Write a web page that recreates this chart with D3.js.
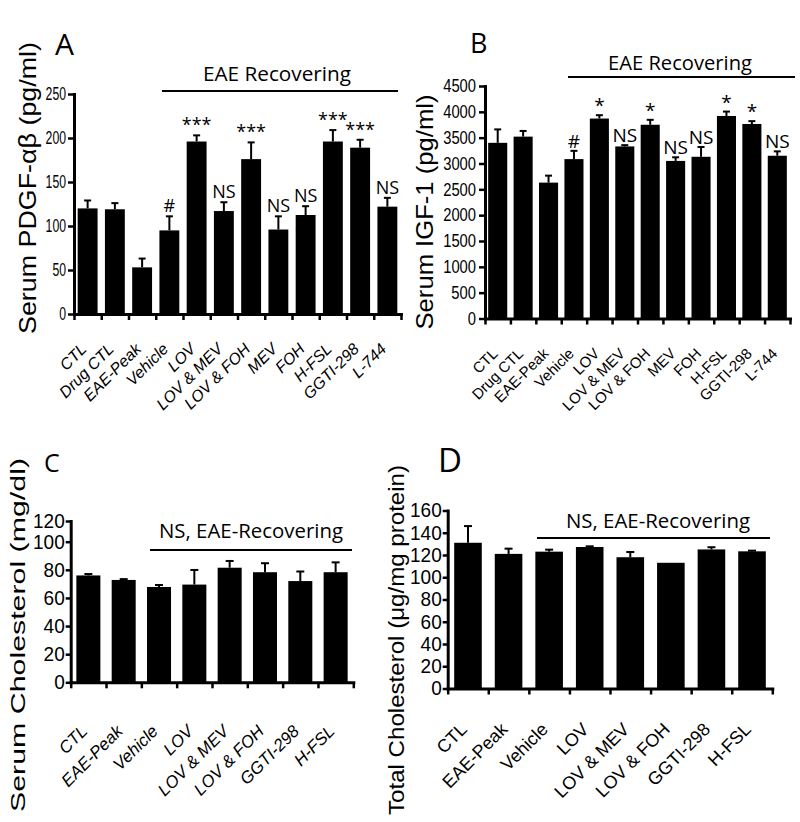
<!DOCTYPE html>
<html><head><meta charset="utf-8">
<script src="https://cdn.jsdelivr.net/npm/d3@7"></script>
<style>body{margin:0;background:#fff} svg{display:block}</style>
</head><body>
<svg id="chart" width="800" height="822"></svg>
<script>
// ---------- data ----------
const catsAB = ["CTL","Drug CTL","EAE-Peak","Vehicle","LOV","LOV & MEV","LOV & FOH","MEV","FOH","H-FSL","GGTI-298","L-744"];
const pdgfMean = [120,119,53,95,196,117,176,96,112.5,196,189,122];
const pdgfErr  = [9,7,10,16,7,10,19,15,10,13,9,10];
const pdgfMarks = ["","","","#","***","NS","***","NS","NS","***","***","NS"];
const pdgfTicks = [0,50,100,150,200,250];

const igfMean = [3400,3520,2630,3085,3870,3330,3750,3050,3130,3920,3765,3150];
const igfErr  = [260,110,135,160,65,25,95,70,190,85,55,85];
const igfMarks = ["","","","#","*","NS","*","NS","NS","*","*","NS"];
const igfTicks = [0,500,1000,1500,2000,2500,3000,3500,4000,4500];

const catsCD = ["CTL","EAE-Peak","Vehicle","LOV","LOV & MEV","LOV & FOH","GGTI-298","H-FSL"];
const serumCholMean = [76,72.8,67.8,69.5,81.5,78.3,72,78.3];
const serumCholErr  = [1,0.6,1.4,10.4,4.8,6.4,6.8,7];
const serumCholTicks = [0,20,40,60,80,100,120];

const totalCholMean = [131,121,123,127.2,118,113,125,123.3];
const totalCholErr  = [15,4.7,1.8,0.6,4.7,0,2,0.6];
const totalCholTicks = [0,20,40,60,80,100,120,140,160];

const headerAB = "EAE Recovering";
const headerCD = "NS, EAE-Recovering";

// ---------- drawing ----------
const svg = d3.select("#chart");
const LABEL_FONT = "'Liberation Sans', Arial, Helvetica, sans-serif";
const ANNO_FONT = "'Open Sans', 'Noto Sans', sans-serif";

function condense(sel, ratio){
  sel.each(function(){
    const L = this.getComputedTextLength();
    d3.select(this).attr("textLength", L*ratio).attr("lengthAdjust","spacingAndGlyphs");
  });
}

function drawPanel(c){
  const g = svg.append("g");
  const n = c.cats.length;
  const x = d3.scaleBand().domain(c.cats).range([c.x0,c.x1]).paddingInner(c.pad).paddingOuter(c.pad/2);
  const y = d3.scaleLinear().domain(c.yDomain).range(c.yRange);
  const xl = d3.scaleLinear().domain([0,n]).range([c.x0,c.x1]);

  // bars
  g.selectAll("rect.bar").data(c.mean).join("rect")
    .attr("x",(d,i)=>x(c.cats[i])).attr("width",x.bandwidth())
    .attr("y",d=>y(d)).attr("height",d=>y(0)-y(d)).attr("fill","#000");
  // error bars
  c.mean.forEach((m,i)=>{
    if(!c.err[i]) return;
    const cx = x(c.cats[i])+x.bandwidth()/2;
    g.append("line").attr("x1",cx).attr("x2",cx).attr("y1",y(m)).attr("y2",y(m+c.err[i]))
      .attr("stroke","#000").attr("stroke-width",2);
    g.append("line").attr("x1",cx-c.cap).attr("x2",cx+c.cap).attr("y1",y(m+c.err[i])).attr("y2",y(m+c.err[i]))
      .attr("stroke","#000").attr("stroke-width",2);
  });
  // annotations
  if(c.marks){
    c.mean.forEach((m,i)=>{
      if(!c.marks[i]) return;
      const cx = x(c.cats[i])+x.bandwidth()/2;
      g.append("text").attr("x",cx).attr("y",y(m+c.err[i])-c.markGap)
        .attr("text-anchor","middle").attr("font-family",ANNO_FONT)
        .attr("font-size",c.markSize).text(c.marks[i]);
    });
  }
  // y axis
  const ya = g.append("g").attr("transform",`translate(${c.x0},0)`)
    .call(d3.axisLeft(y).tickValues(c.ticks).tickSize(c.ytick).tickSizeOuter(0).tickPadding(c.ypadT).tickFormat(d3.format("d")));
  ya.select(".domain").attr("stroke-width",3).attr("stroke-linecap","square");
  ya.selectAll(".tick line").attr("stroke-width",2.5);
  ya.selectAll(".tick text").attr("font-family",LABEL_FONT).attr("font-size",c.yfs).attr("fill","#000");
  condense(ya.selectAll(".tick text"), c.ycond);
  // x axis (ticks at category boundaries)
  const xa = g.append("g").attr("transform",`translate(0,${y(0)})`)
    .call(d3.axisBottom(xl).tickValues(d3.range(n+1)).tickSize(6).tickSizeOuter(0).tickFormat(""));
  xa.select(".domain").attr("stroke-width",3).attr("stroke-linecap","square");
  xa.selectAll(".tick line").attr("stroke-width",2.5);
  // x labels
  c.cats.forEach((name,i)=>{
    const cx = x(name)+x.bandwidth()/2 + c.xlabDx;
    g.append("text").attr("transform",`translate(${cx},${y(0)+c.xlabDy}) rotate(-45)`)
      .attr("text-anchor","end").attr("font-family",LABEL_FONT).attr("font-size",c.xfs)
      .attr("font-style",c.italic?"italic":"normal").text(name);
  });
  // header line + text
  g.append("line").attr("x1",c.hx0).attr("x2",c.hx1).attr("y1",c.hy).attr("y2",c.hy)
    .attr("stroke","#000").attr("stroke-width",2);
  g.append("text").attr("x",c.htx).attr("y",c.hty).attr("text-anchor","middle")
    .attr("font-family",ANNO_FONT).attr("font-size",c.hfs)
    .attr("textLength",c.htl).attr("lengthAdjust","spacingAndGlyphs").text(c.header);
  // panel letter
  g.append("text").attr("x",c.lx).attr("y",c.ly).attr("font-family",ANNO_FONT)
    .attr("font-size",c.lfs).text(c.letter);
  // y title
  g.append("text").attr("transform",`translate(${c.tx},${c.ty}) rotate(-90)`)
    .attr("text-anchor","middle").attr("font-family",LABEL_FONT).attr("font-size",c.tfs)
    .attr("textLength",c.tl).attr("lengthAdjust","spacingAndGlyphs").text(c.title);
}

drawPanel({cats:catsAB, mean:pdgfMean, err:pdgfErr, marks:pdgfMarks, ticks:pdgfTicks,
  x0:74, x1:401, pad:0.27, yDomain:[0,250], yRange:[314,94], cap:3.5,
  markGap:4, markSize:18, ytick:6, ypadT:2, yfs:18, ycond:0.68,
  xlabDx:0, xlabDy:36, xfs:16, italic:true,
  hx0:162, hx1:398, hy:91, htx:277, hty:81, hfs:20, htl:148, header:headerAB,
  letter:"A", lx:55, ly:55, lfs:30,
  title:"Serum PDGF-αβ (pg/ml)", tx:36, ty:188, tfs:24, tl:292});

drawPanel({cats:catsAB, mean:igfMean, err:igfErr, marks:igfMarks, ticks:igfTicks,
  x0:485, x1:790, pad:0.25, yDomain:[0,4500], yRange:[318.5,86], cap:3.5,
  markGap:3, markSize:19, ytick:6, ypadT:3, yfs:18, ycond:0.82,
  xlabDx:1, xlabDy:36, xfs:15, italic:false,
  hx0:568, hx1:795, hy:77, htx:680, hty:70, hfs:20, htl:144, header:headerAB,
  letter:"B", lx:470, ly:53, lfs:27,
  title:"Serum IGF-1 (pg/ml)", tx:433, ty:212, tfs:24, tl:235});

// panel C: the reference's y axis has a compressed 100-120 segment
drawPanel({cats:catsCD, mean:serumCholMean, err:serumCholErr, marks:null, ticks:serumCholTicks,
  x0:70.7, x1:353.3, pad:0.32, yDomain:[0,100,120], yRange:[682.3,541.7,521], cap:4,
  markGap:4, markSize:19, ytick:5, ypadT:1, yfs:20, ycond:0.95,
  xlabDx:0, xlabDy:50, xfs:17, italic:true,
  hx0:150, hx1:352, hy:550, htx:251, hty:538, hfs:20, htl:184, header:headerCD,
  letter:"C", lx:44, ly:472, lfs:25,
  title:"Serum Cholesterol (mg/dl)", tx:25, ty:635, tfs:21, tl:354});

drawPanel({cats:catsCD, mean:totalCholMean, err:totalCholErr, marks:null, ticks:totalCholTicks,
  x0:447.7, x1:772.3, pad:0.32, yDomain:[0,160], yRange:[688.5,510.5], cap:4,
  markGap:4, markSize:19, ytick:5, ypadT:1, yfs:20, ycond:0.95,
  xlabDx:0, xlabDy:42, xfs:18, italic:false,
  hx0:537, hx1:770, hy:538, htx:658, hty:528, hfs:20, htl:184, header:headerCD,
  letter:"D", lx:438, ly:472, lfs:33,
  title:"Total Cholesterol (μg/mg protein)", tx:404, ty:640, tfs:22, tl:350});
</script>
</body></html>
